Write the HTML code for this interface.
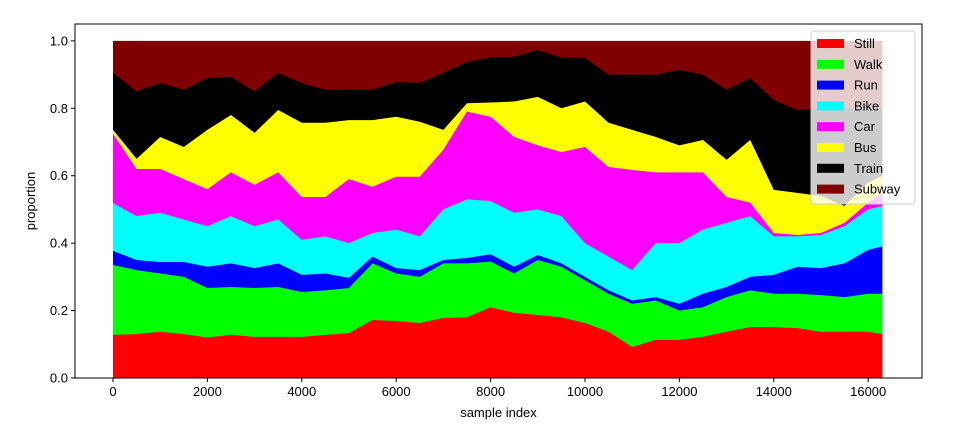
<!DOCTYPE html>
<html><head><meta charset="utf-8"><style>
body{margin:0;background:#fff;}
svg text{font-family:"Liberation Sans","DejaVu Sans",sans-serif;font-size:13px;fill:#000;}
</style></head><body>
<svg id="chart" width="960" height="429">
<g id="areas"></g>
<g id="axes"></g>
<g id="legend"></g>
</svg>
<script>
const samples=[0,500,1000,1500,2000,2500,3000,3500,4000,4500,5000,5500,6000,6500,7000,7500,8000,8500,9000,9500,10000,10500,11000,11500,12000,12500,13000,13500,14000,14500,15000,15500,16000,16300];
const labels=["Still","Walk","Run","Bike","Car","Bus","Train","Subway"];
const colors=["#ff0000","#00ff00","#0000ff","#00ffff","#ff00ff","#ffff00","#000000","#7f0000"];
// cumulative tops of each class
const stillTop=[0.128,0.13,0.137,0.13,0.12,0.128,0.122,0.122,0.122,0.128,0.133,0.172,0.169,0.163,0.178,0.18,0.21,0.193,0.187,0.18,0.163,0.137,0.092,0.113,0.113,0.122,0.137,0.151,0.151,0.148,0.137,0.137,0.137,0.13];
const walkTop=[0.335,0.32,0.31,0.30,0.267,0.27,0.267,0.27,0.255,0.26,0.267,0.34,0.31,0.30,0.34,0.34,0.345,0.31,0.35,0.33,0.29,0.25,0.22,0.23,0.20,0.21,0.24,0.26,0.25,0.25,0.246,0.24,0.25,0.25];
const runTop=[0.377,0.35,0.344,0.344,0.33,0.34,0.326,0.34,0.306,0.31,0.297,0.36,0.326,0.32,0.35,0.356,0.367,0.33,0.365,0.34,0.30,0.26,0.23,0.24,0.22,0.25,0.27,0.30,0.306,0.33,0.326,0.34,0.38,0.39];
const bikeTop=[0.519,0.48,0.49,0.47,0.45,0.48,0.45,0.47,0.41,0.42,0.40,0.43,0.44,0.42,0.50,0.53,0.525,0.49,0.50,0.48,0.40,0.36,0.32,0.40,0.40,0.44,0.46,0.48,0.42,0.42,0.424,0.45,0.50,0.51];
const carTop=[0.724,0.62,0.62,0.59,0.56,0.61,0.573,0.61,0.537,0.537,0.59,0.567,0.597,0.597,0.677,0.79,0.775,0.715,0.69,0.67,0.685,0.626,0.617,0.61,0.61,0.61,0.537,0.52,0.43,0.424,0.43,0.46,0.52,0.55];
const busTop=[0.736,0.65,0.715,0.685,0.736,0.78,0.727,0.795,0.757,0.757,0.765,0.765,0.775,0.76,0.736,0.815,0.817,0.82,0.834,0.80,0.82,0.757,0.736,0.715,0.69,0.706,0.647,0.706,0.558,0.549,0.54,0.51,0.58,0.60];
const trainTop=[0.905,0.85,0.875,0.855,0.89,0.893,0.85,0.905,0.875,0.855,0.855,0.855,0.878,0.875,0.905,0.937,0.951,0.953,0.973,0.95,0.95,0.90,0.90,0.90,0.914,0.90,0.855,0.89,0.825,0.795,0.80,0.80,0.80,0.80];
const subwayTop=samples.map(()=>1.0);
const xTicks=[0,2000,4000,6000,8000,10000,12000,14000,16000];
const yTicks=[0.0,0.2,0.4,0.6,0.8,1.0];

const NS="http://www.w3.org/2000/svg";
const X0=75,X1=922,Y0=378,Y1=24;
const xMin=-805,xMax=17140,yMin=0,yMax=1.05;
const sx=v=>X0+(v-xMin)/(xMax-xMin)*(X1-X0);
const sy=v=>Y0-(v-yMin)/(yMax-yMin)*(Y0-Y1);
function mk(t,a,p){const e=document.createElementNS(NS,t);for(const k in a)e.setAttribute(k,a[k]);p.appendChild(e);return e;}
const areas=document.getElementById('areas');
const tops=[stillTop,walkTop,runTop,bikeTop,carTop,busTop,trainTop,subwayTop];
for(let i=tops.length-1;i>=0;i--){
  const arr=tops[i];
  let d=`M${sx(samples[0])},${sy(0)}`;
  for(let j=0;j<samples.length;j++){d+=` L${sx(samples[j])},${sy(arr[j])}`;}
  d+=` L${sx(samples[samples.length-1])},${sy(0)} Z`;
  const p=mk('path',{d:d,fill:colors[i]},areas);
  
  
}
const axes=document.getElementById('axes');
const fr=mk('rect',{x:X0,y:Y1,width:X1-X0,height:Y0-Y1,fill:'none',stroke:'#000','stroke-width':1},axes);


xTicks.forEach(v=>{
  const x=sx(v);
  const l=mk('line',{x1:x,x2:x,y1:Y0,y2:Y0+4,stroke:'#000'},axes);
  
  
  const t=mk('text',{x:x,y:Y0+18,'text-anchor':'middle'},axes);t.textContent=String(v);
  
  
});
yTicks.forEach(v=>{
  const y=sy(v);
  const l=mk('line',{x1:X0-4,x2:X0,y1:y,y2:y,stroke:'#000'},axes);
  
  
  const t=mk('text',{x:X0-7,y:y+4.5,'text-anchor':'end'},axes);t.textContent=v.toFixed(1);
  
  
});
const xl=mk('text',{x:(X0+X1)/2,y:417,'text-anchor':'middle'},axes);xl.textContent='sample index';


const yl=mk('text',{x:0,y:0,'text-anchor':'middle',transform:`translate(35,${(Y0+Y1)/2}) rotate(-90)`},axes);yl.textContent='proportion';


const lg=document.getElementById('legend');
const lb=mk('rect',{x:811,y:31,width:104,height:173,rx:3,fill:'#fff','fill-opacity':0.8,stroke:'#ccc'},lg);


labels.forEach((n,i)=>{
  const y=43+i*20.8;
  const r=mk('rect',{x:817,y:y-4,width:27,height:9,fill:colors[i]},lg);
  
  
  const t=mk('text',{x:854,y:y+5},lg);t.textContent=n;
  
  
});
</script>
</body></html>
